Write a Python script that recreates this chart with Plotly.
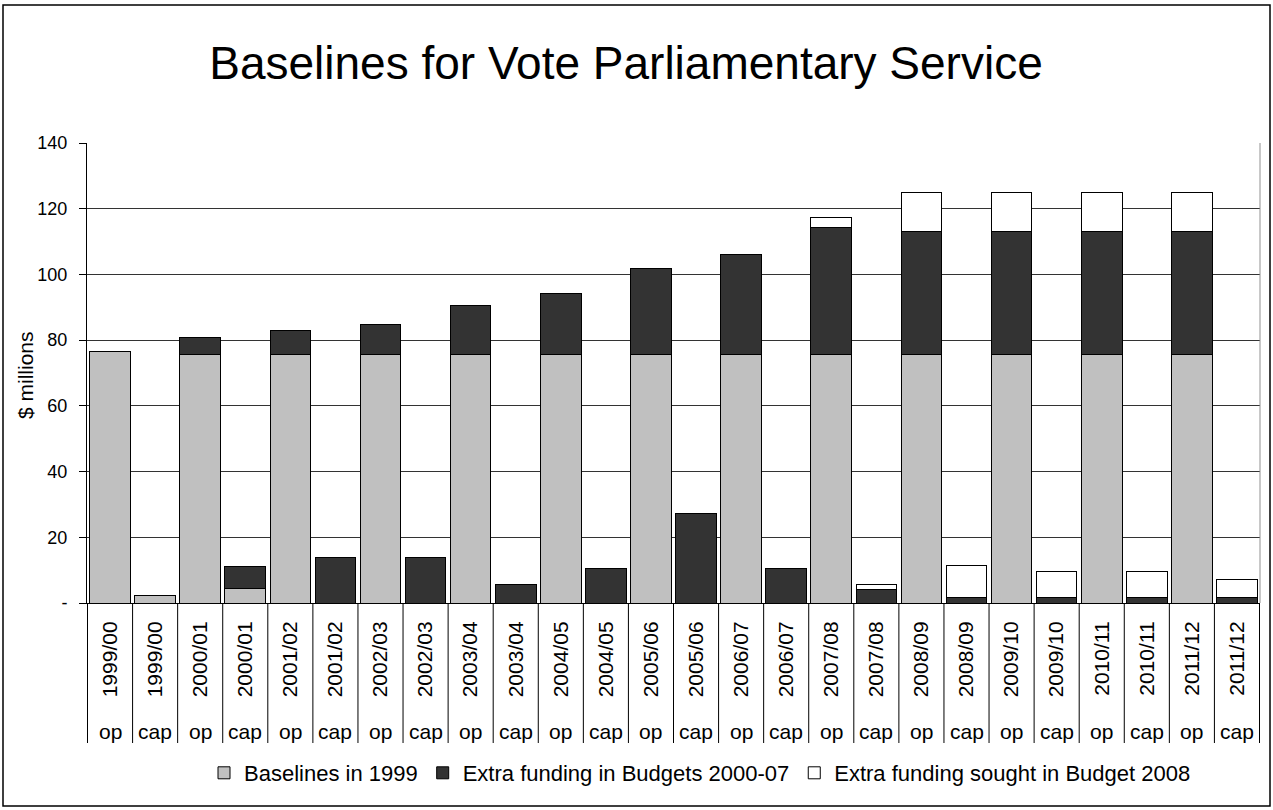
import plotly.graph_objects as go

# Financial years, each split into operating and capital columns
year_labels = [
    "1999/00", "1999/00", "2000/01", "2000/01", "2001/02", "2001/02",
    "2002/03", "2002/03", "2003/04", "2003/04", "2004/05", "2004/05",
    "2005/06", "2005/06", "2006/07", "2006/07", "2007/08", "2007/08",
    "2008/09", "2008/09", "2009/10", "2009/10", "2010/11", "2010/11",
    "2011/12", "2011/12",
]
kind_labels = ["op", "cap"] * 13

# $ millions; None where a series has no amount for that column
baselines_1999 = [
    76.5, 2.4, 75.5, 4.5, 75.5, None, 75.5, None, 75.5, None, 75.5, None, 75.5,
    None, 75.5, None, 75.5, None, 75.5, None, 75.5, None, 75.5, None, 75.5, None,
]
extra_2000_07 = [
    None, None, 5.2, 6.6, 7.5, 14.0, 9.2, 14.0, 14.9, 5.5, 18.6, 10.6, 26.3,
    27.1, 30.7, 10.6, 38.9, 4.1, 37.7, 1.7, 37.7, 1.7, 37.7, 1.7, 37.7, 1.7,
]
sought_2008 = [
    None, None, None, None, None, None, None, None, None, None, None, None, None,
    None, None, None, 2.8, 1.4, 11.6, 9.8, 11.6, 8.0, 11.6, 8.0, 11.6, 5.6,
]

y_ticks = [0, 20, 40, 60, 80, 100, 120, 140]
y_tick_text = ["-", "20", "40", "60", "80", "100", "120", "140"]

categories = [f"{y} {k}" for y, k in zip(year_labels, kind_labels)]

FONT = "Liberation Sans, Arial, sans-serif"
outline = dict(color="#000000", width=1)

fig = go.Figure()
fig.add_trace(go.Bar(x=categories, y=baselines_1999, name="Baselines in 1999",
                     marker=dict(color="#C0C0C0", line=outline)))
fig.add_trace(go.Bar(x=categories, y=extra_2000_07, name="Extra funding in Budgets 2000-07",
                     marker=dict(color="#333333", line=outline)))
fig.add_trace(go.Bar(x=categories, y=sought_2008, name="Extra funding sought in Budget 2008",
                     marker=dict(color="#FFFFFF", line=outline)))

# plot-area geometry in pixels
W, H = 1273, 810
L, R, T, B = 87, 13, 143, 207
pw, ph = W - L - R, H - T - B


def px_x(x):
    return (x - L) / pw


def px_y(y):
    return (H - B - y) / ph


shapes = []
# category separators running down through the label rows
for i in range(len(categories) + 1):
    shapes.append(dict(type="line", xref="x", yref="paper",
                       x0=i - 0.5, x1=i - 0.5, y0=0, y1=px_y(743),
                       line=dict(color="#000000", width=1)))
# right edge of plot area
shapes.append(dict(type="line", xref="paper", yref="paper", x0=1, x1=1, y0=0, y1=1,
                   line=dict(color="#909090", width=1)))
# outer frame
shapes.append(dict(type="rect", xref="paper", yref="paper",
                   x0=px_x(3), x1=px_x(1270), y0=px_y(806), y1=px_y(5),
                   line=dict(color="#000000", width=1.5), fillcolor="rgba(0,0,0,0)"))

annotations = []
for c, k in zip(categories, kind_labels):
    annotations.append(dict(x=c, xref="x", y=px_y(731), yref="paper", text=k,
                            showarrow=False, xanchor="center", yanchor="middle",
                            font=dict(family=FONT, size=21, color="#000000")))
annotations.append(dict(x=px_x(25), xref="paper", y=px_y(375), yref="paper",
                        text="$ millions", textangle=-90, showarrow=False,
                        xanchor="center", yanchor="middle",
                        font=dict(family=FONT, size=21, color="#000000")))

fig.update_layout(
    width=W, height=H,
    margin=dict(l=L, r=R, t=T, b=B),
    paper_bgcolor="#FFFFFF", plot_bgcolor="#FFFFFF",
    barmode="stack", bargap=0.1,
    font=dict(family=FONT, color="#000000"),
    title=dict(text="Baselines for Vote Parliamentary Service",
               x=626 / W, xref="container", xanchor="center",
               y=1 - 63 / H, yref="container", yanchor="middle",
               font=dict(family=FONT, size=46, color="#000000")),
    showlegend=True,
    legend=dict(orientation="h", x=px_x(700), xanchor="center",
                y=px_y(773), yanchor="middle",
                font=dict(family=FONT, size=22, color="#000000"),
                itemclick=False, traceorder="normal"),
    shapes=shapes,
    annotations=annotations,
)
fig.update_xaxes(
    type="category", tickvals=categories, ticktext=year_labels,
    tickangle=-90, showline=True, linecolor="#000000", linewidth=1,
    ticks="", showgrid=False, ticklabelstandoff=9,
    tickfont=dict(family=FONT, size=21, color="#000000"),
)
fig.update_yaxes(
    range=[0, 140], tickvals=y_ticks, ticktext=y_tick_text,
    showline=True, linecolor="#000000", linewidth=1,
    ticks="outside", ticklen=7, tickcolor="#000000",
    showgrid=True, gridcolor="#333333", gridwidth=1, zeroline=False,
    ticklabelstandoff=8,
    tickfont=dict(family=FONT, size=18, color="#000000"),
)

fig.write_html("out.html")
